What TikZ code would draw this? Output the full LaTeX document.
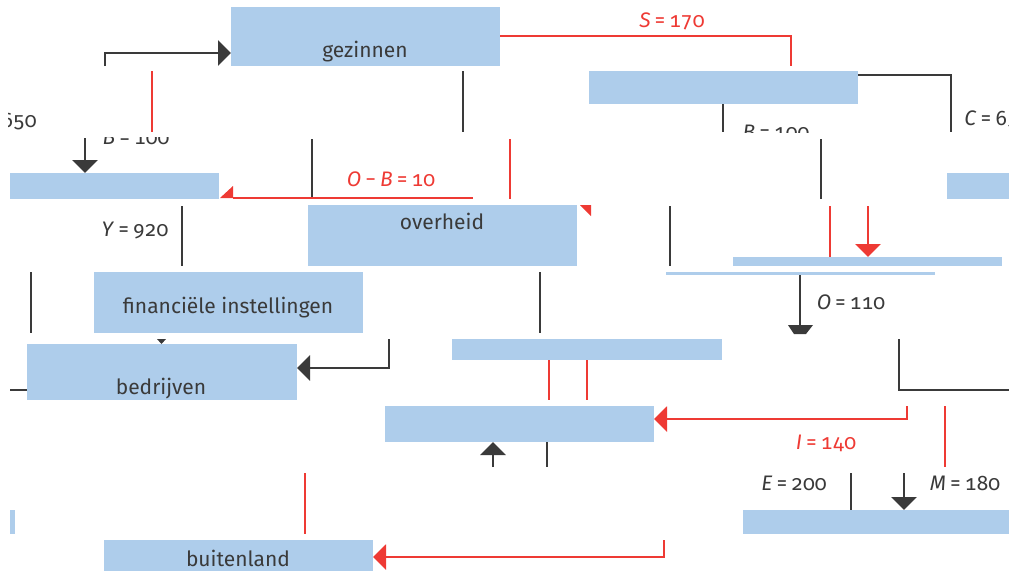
\documentclass[tikz,border=0pt]{standalone}
\usepackage{fontspec}
\setmainfont{Fira Sans}[Numbers={OldStyle,Monospaced}]
\usepackage{tikz}
\usetikzlibrary{arrows.meta}
\definecolor{boxblue}{RGB}{174,205,235}
\definecolor{flowred}{RGB}{238,58,52}
\definecolor{flowdark}{RGB}{58,58,58}
\tikzset{
    box/.style={fill=boxblue},
    dline/.style={draw=flowdark,line width=1.35pt},
    rline/.style={draw=flowred,line width=1.15pt},
    bigtip/.style={-{Triangle[length=6.5pt,width=12.5pt]}},
    dlabel/.style={text=flowdark,font=\fontsize{10.5}{12}\selectfont,inner sep=0pt,anchor=base},
    rlabel/.style={dlabel,text=flowred}
}
\begin{document}
\begin{tikzpicture}[x=0.5pt,y=-0.5pt]
    \useasboundingbox (0,0) rectangle (1009,570);
    \clip (0,0) rectangle (1009,570);

    % blokken
    \fill[box] (231,7) rectangle (500,66);
    \fill[box] (589,71) rectangle (858,104);
    \fill[box] (10,173) rectangle (219,199);
    \fill[box] (947,173) rectangle (1009,199);
    \fill[box] (308,205) rectangle (577,266);
    \fill[box] (733,257) rectangle (1002,266);
    \fill[box] (666,272) rectangle (935,275);
    \fill[box] (94,272) rectangle (363,333);
    \fill[box] (27,344) rectangle (297,400);
    \fill[box] (452,339) rectangle (722,360);
    \fill[box] (385,406) rectangle (654,442);
    \fill[box] (743,510) rectangle (1009,534);
    \fill[box] (10,510) rectangle (15,534);
    \fill[box] (104,540) rectangle (373,575);

    \node[dlabel] (gezinnen) at (365,57) {gezinnen};
    \node[dlabel] (overheid) at (442,229) {overheid};
    \node[dlabel] (fin) at (228,313) {financiële instellingen};
    \node[dlabel] (bedrijven) at (161,394) {bedrijven};
    \node[dlabel] (buitenland) at (238,566) {buitenland};

    % donkere stromen
    \draw[dline,bigtip] (105,66) -- (105,53) -- (231,53);
    \draw[dline] (463,71) -- (463,132);
    \draw[dline,bigtip] (85,138) -- (85,173);
    \draw[dline] (312,139) -- (312,198);
    \draw[dline] (858,75) -- (951,75) -- (951,132);
    \draw[dline] (723,104) -- (723,132);
    \draw[dline] (821,139) -- (821,199);
    \draw[dline] (670,206) -- (670,266);
    \draw[dline] (182,206) -- (182,266);
    \draw[dline] (31,272) -- (31,333);
    \draw[dline] (540,272) -- (540,333);
    \draw[dline] (800,275) -- (800,326);
    \fill[flowdark] (788,325) -- (813,325) -- (806,334) -- (794,334) -- cycle;
    \fill[flowdark] (157,339) -- (166,339) -- (161.5,344) -- cycle;
    \draw[dline] (10,390) -- (27,390);
    \draw[dline,bigtip] (389,339) -- (389,368) -- (297,368);
    \draw[dline] (899,339) -- (899,390) -- (1012,390);
    \draw[dline,bigtip] (493,467) -- (493,442);
    \draw[dline] (547,442) -- (547,467);
    \draw[dline] (851,473) -- (851,510);
    \draw[dline,bigtip] (904,473) -- (904,510);

    % rode stromen
    \draw[rline] (500,36) -- (791,36) -- (791,66);
    \draw[rline] (152,71) -- (152,132);
    \draw[rline] (510,139) -- (510,199);
    \draw[rline] (233,198) -- (473,198);
    \fill[flowred] (220,198) -- (233,186) -- (233,198) -- cycle;
    \fill[flowred] (580,205) -- (591,205) -- (591,216) -- cycle;
    \draw[rline] (830,206) -- (830,257);
    \draw[rline,bigtip] (868,206) -- (868,257);
    \draw[rline] (549,360) -- (549,400);
    \draw[rline] (587,360) -- (587,400);
    \draw[rline,bigtip] (907,406) -- (907,419) -- (654,419);
    \draw[rline] (945,406) -- (945,467);
    \draw[rline] (305,473) -- (305,534);
    \draw[rline,bigtip] (664,540) -- (664,557) -- (373,557);

    % labels
    \node[rlabel] (S) at (672,27) {\textit{S}\,=\,170};
    \node[rlabel] (OB) at (391,186) {\textit{O}\,−\,\textit{B}\,=\,10};
    \node[rlabel] (I) at (826,449) {\textit{I}\,=\,140};
    \node[dlabel,anchor=base west] (C) at (964,125) {\textit{C}\,=\,650};
    \node[dlabel] (Y) at (135,236) {\textit{Y}\,=\,920};
    \node[dlabel] (O) at (851,309) {\textit{O}\,=\,110};
    \node[dlabel] (E) at (794,490) {\textit{E}\,=\,200};
    \node[dlabel] (M) at (965,490) {\textit{M}\,=\,180};
    \begin{scope}
        \clip (8,100) rectangle (60,140);
        \node[dlabel,anchor=base east] (Cl) at (37,127) {650};
    \end{scope}
    \begin{scope}
        \clip (90,137) rectangle (200,160);
        \node[dlabel] (Bl) at (136,144) {\textit{B}\,=\,100};
    \end{scope}
    \begin{scope}
        \clip (730,110) rectangle (830,132);
        \node[dlabel] (Br) at (776,139) {\textit{B}\,=\,100};
    \end{scope}
\end{tikzpicture}
\end{document}
